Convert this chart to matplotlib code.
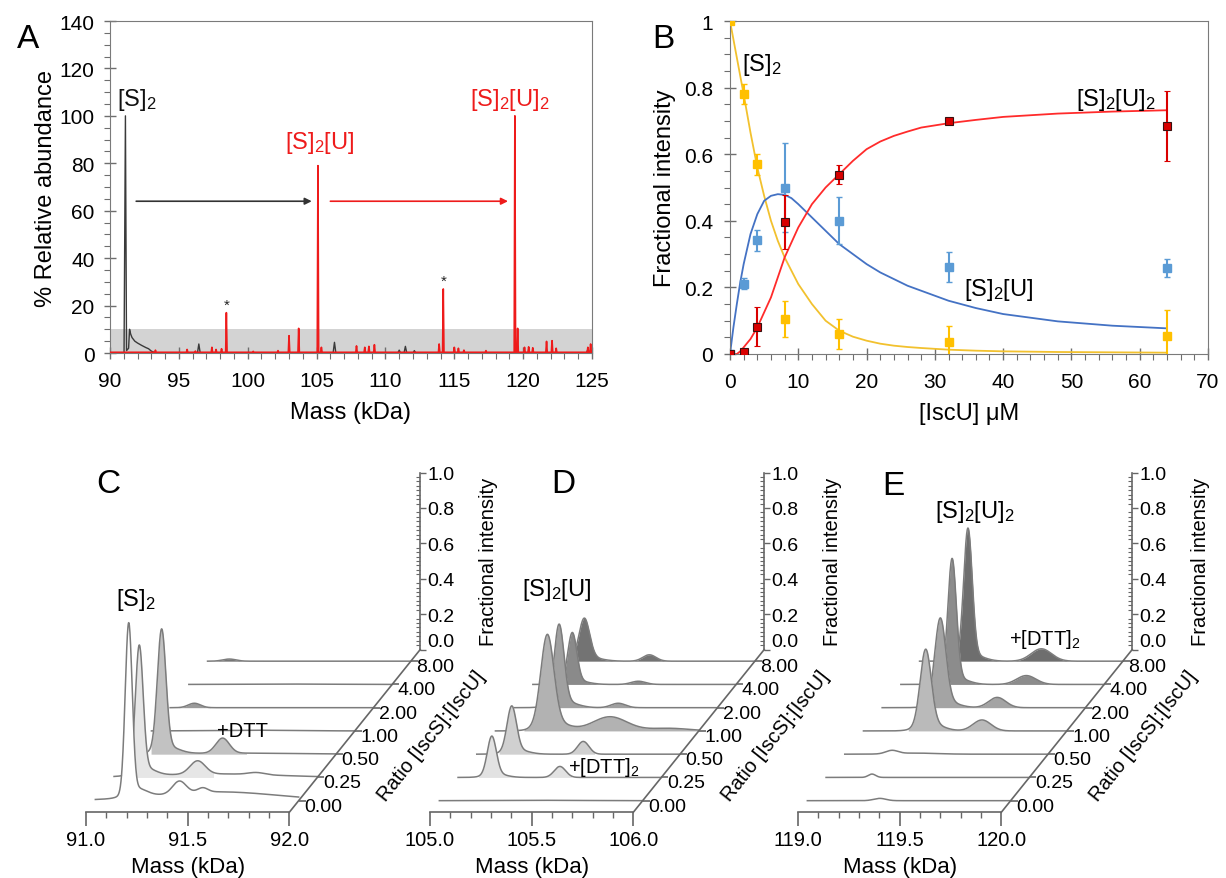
import numpy as np
import matplotlib
matplotlib.use('Agg')
import matplotlib.pyplot as plt
from matplotlib.markers import TICKRIGHT
from matplotlib.ticker import MultipleLocator, FixedLocator

plt.rcParams['font.family'] = ['Liberation Sans', 'DejaVu Sans']
plt.rcParams['mathtext.fontset'] = 'custom'
plt.rcParams['mathtext.rm'] = 'Liberation Sans'
plt.rcParams['mathtext.it'] = 'Liberation Sans'

# ---------------- Panel A data ----------------
A_BLACK_MASS = [90.0, 91.02, 91.12, 91.2, 91.35, 91.42, 91.5, 91.6, 91.8, 92.0, 92.3, 92.6, 92.8, 93.0, 93.3,
                96.35, 96.45, 96.55, 106.2, 106.3, 106.4, 110.9, 111.0, 111.1, 111.35, 111.45, 111.55,
                112.0, 112.1, 112.2, 124.6, 124.7, 124.8, 125.0]
A_BLACK_AB = [0, 0, 100, 1, 2, 10, 8, 6.5, 5, 4.2, 3.2, 2.3, 1.8, 0.8, 0,
              0, 3.8, 0, 0, 4.5, 0, 0, 1.2, 0, 0, 2.8, 0,
              0, 1.0, 0, 0, 1.5, 0, 0]
A_RED_PEAK_MASS = [93.3, 95.6, 96.2, 97.4, 97.7, 98.1, 98.45, 100.4, 102.2, 103.0, 103.7, 105.1, 105.35,
                   107.9, 108.5, 108.8, 109.2, 113.9, 114.2, 115.0, 115.3, 115.7, 117.3, 119.4, 119.6,
                   120.1, 120.4, 120.7, 121.7, 122.1, 122.4, 124.7, 124.9]
A_RED_PEAK_AB = [1.2, 1.5, 0.8, 2.4, 1.5, 1.8, 17, 0.7, 1.0, 7.3, 10.4, 79, 2.4,
                 3.0, 2.4, 2.8, 3.5, 3.8, 27, 2.4, 2.0, 1.2, 1.0, 100, 10.4,
                 2.4, 2.6, 2.2, 4.9, 5.2, 2.0, 2.4, 3.8]
A_STAR_MASS = [98.45, 114.2]
A_STAR_AB = [20.5, 30.5]

# ---------------- Panel B data ----------------
ISCU = [0, 2, 4, 8, 16, 32, 64]
B_S2 = [1.0, 0.78, 0.57, 0.105, 0.06, 0.035, 0.055]
B_S2_ERR = [0, 0.03, 0.032, 0.055, 0.045, 0.048, 0.077]
B_S2U = [0, 0.211, 0.341, 0.50, 0.40, 0.26, 0.258]
B_S2U_ERR = [0, 0.017, 0.032, 0.135, 0.07, 0.045, 0.028]
B_S2U2 = [0, 0.007, 0.082, 0.396, 0.539, 0.70, 0.685]
B_S2U2_ERR = [0, 0, 0.058, 0.08, 0.028, 0, 0.104]
FIT_X = [0, 0.5, 1, 1.5, 2, 3, 4, 5, 6, 7, 8, 9, 10, 11, 12, 13, 14, 16, 18, 20, 22, 24, 26, 28,
         32, 36, 40, 48, 56, 64]
FIT_S2 = [1.0, 0.945, 0.89, 0.835, 0.78, 0.665, 0.56, 0.475, 0.40, 0.34, 0.29, 0.25, 0.21, 0.18, 0.15,
          0.125, 0.10, 0.07, 0.052, 0.04, 0.031, 0.025, 0.021, 0.018, 0.013, 0.010, 0.008, 0.006,
          0.005, 0.004]
FIT_S2U = [0, 0.08, 0.15, 0.215, 0.27, 0.36, 0.42, 0.46, 0.475, 0.48, 0.478, 0.468, 0.45, 0.43, 0.41,
           0.39, 0.37, 0.33, 0.30, 0.27, 0.245, 0.225, 0.205, 0.19, 0.16, 0.138, 0.12, 0.098, 0.085,
           0.077]
FIT_S2U2 = [0, 0, 0, 0.008, 0.02, 0.045, 0.08, 0.125, 0.17, 0.23, 0.29, 0.335, 0.38, 0.415, 0.45,
            0.475, 0.50, 0.54, 0.58, 0.615, 0.638, 0.655, 0.668, 0.68, 0.693, 0.703, 0.712, 0.722,
            0.728, 0.732]

# ---------------- Panels C-E data ----------------
RATIO_LABELS = ["0.00", "0.25", "0.50", "1.00", "2.00", "4.00", "8.00"]
# each row: (start mass, fill range or None, fill colour, [(centre kDa, height, width kDa), ...])
C_ROWS = [
    (91.0, None, None, [(91.164, 0.95, 0.017), (91.2, 0.05, 0.05), (91.6, 0.05, 0.3),
                        (91.413, 0.07, 0.033), (91.528, 0.025, 0.025)]),
    (91.0, (91.08, 91.49), '#e6e6e6', [(91.124, 0.70, 0.019), (91.15, 0.045, 0.05), (91.5, 0.02, 0.3),
                                       (91.411, 0.075, 0.037), (91.70, 0.012, 0.04)]),
    (91.0, (91.09, 91.56), '#c2c2c2', [(91.142, 0.67, 0.021), (91.17, 0.04, 0.055), (91.5, 0.006, 0.3),
                                       (91.442, 0.085, 0.033)]),
    (91.0, None, None, [(91.5, 0.004, 0.2)]),
    (91.0, (91.04, 91.2), '#9a9a9a', [(91.119, 0.025, 0.03)]),
    (91.0, None, None, [(91.5, 0.002, 0.2)]),
    (91.0, (91.03, 91.2), '#767676', [(91.107, 0.012, 0.032)]),
]
D_ROWS = [
    (105.0, None, None, [(105.5, 0.002, 0.2)]),
    (105.0, (105.10, 105.56), '#e2e2e2', [(105.166, 0.215, 0.022), (105.185, 0.02, 0.05),
                                          (105.501, 0.062, 0.028)]),
    (105.0, (105.11, 105.58), '#d0d0d0', [(105.172, 0.25, 0.023), (105.195, 0.025, 0.055),
                                          (105.524, 0.072, 0.028)]),
    (105.0, (105.14, 106.0), '#b2b2b2', [(105.255, 0.50, 0.032), (105.285, 0.05, 0.07),
                                         (105.563, 0.08, 0.084), (105.85, 0.015, 0.1)]),
    (105.0, (105.15, 105.6), '#a0a0a0', [(105.221, 0.44, 0.024), (105.245, 0.035, 0.06),
                                         (105.512, 0.025, 0.035)]),
    (105.0, (105.12, 105.6), '#8a8a8a', [(105.194, 0.275, 0.022), (105.215, 0.02, 0.055),
                                         (105.519, 0.018, 0.035)]),
    (105.10, (105.10, 105.6), '#737373', [(105.161, 0.225, 0.026), (105.185, 0.02, 0.06),
                                          (105.481, 0.036, 0.032)]),
]
E_ROWS = [
    (119.0, None, None, [(119.356, 0.013, 0.03)]),
    (119.0, None, None, [(119.226, 0.019, 0.018)]),
    (119.0, None, None, [(119.232, 0.019, 0.03), (119.35, 0.006, 0.1)]),
    (119.0, (119.22, 119.72), '#bababa', [(119.306, 0.425, 0.027), (119.33, 0.04, 0.06),
                                          (119.583, 0.062, 0.044)]),
    (119.0, (119.21, 119.72), '#a4a4a4', [(119.286, 0.475, 0.027), (119.31, 0.035, 0.06),
                                          (119.566, 0.058, 0.042)]),
    (119.0, (119.18, 119.76), '#8c8c8c', [(119.252, 0.68, 0.021), (119.275, 0.035, 0.055),
                                          (119.617, 0.05, 0.047)]),
    (119.0, (119.17, 119.78), '#6e6e6e', [(119.238, 0.72, 0.021), (119.26, 0.035, 0.055),
                                          (119.599, 0.07, 0.05)]),
]

# ---------------- figure ----------------
W, H = 1226, 879
fig = plt.figure(figsize=(W / 100, H / 100), dpi=100)


def box(L, T, R, B):
    return [L / W, 1 - B / H, (R - L) / W, (B - T) / H]


def fxy(x, y):
    return x / W, 1 - y / H


AX_GRAY = '#6e6e6e'

# ---------- Panel A ----------
axA = fig.add_axes(box(110, 22, 592, 354))
axA.axhspan(0, 10, color='#d3d3d3', lw=0, zorder=0)
axA.plot(A_BLACK_MASS, A_BLACK_AB, color='#3a3a3a', lw=1.0, zorder=2)
rx, ry = [90.0], [0.3]
for m, h in zip(A_RED_PEAK_MASS, A_RED_PEAK_AB):
    rx += [m - 0.05, m, m + 0.05]
    ry += [0.3, h, 0.3]
rx.append(125.0)
ry.append(0.3)
axA.plot(rx, ry, color='#ee1b1b', lw=1.2, zorder=3)
for m, a in zip(A_STAR_MASS, A_STAR_AB):
    axA.text(m, a, '*', ha='center', va='center', fontsize=11, color='#222')
axA.annotate('', xy=(104.85, 64), xytext=(91.7, 64),
             arrowprops=dict(arrowstyle='-|>', color='#333333', lw=1.2, mutation_scale=10))
axA.annotate('', xy=(119.1, 64), xytext=(105.8, 64),
             arrowprops=dict(arrowstyle='-|>', color='#ee1b1b', lw=1.2, mutation_scale=10))
axA.text(91.95, 107, r'[S]$_2$', ha='center', va='center', fontsize=17, color='#111')
axA.text(105.25, 89, r'[S]$_2$[U]', ha='center', va='center', fontsize=17, color='#ee1b1b')
axA.text(119.05, 107, r'[S]$_2$[U]$_2$', ha='center', va='center', fontsize=17, color='#ee1b1b')
axA.set_xlim(90, 125)
axA.set_ylim(0, 140)
axA.set_xticks(np.arange(90, 126, 5))
axA.set_yticks(np.arange(0, 141, 20))
axA.xaxis.set_minor_locator(MultipleLocator(1))
axA.yaxis.set_minor_locator(MultipleLocator(5))
axA.tick_params(which='major', direction='inout', length=8, width=1, color=AX_GRAY, labelsize=15)
axA.tick_params(axis='x', which='major', pad=9)
axA.tick_params(axis='y', which='major', pad=7)
axA.tick_params(which='minor', direction='out', length=4, width=0.8, color=AX_GRAY)
for s in axA.spines.values():
    s.set_color('#7a7a7a')
axA.set_xlabel('Mass (kDa)', fontsize=17, labelpad=8)
axA.set_ylabel('% Relative abundance', fontsize=17, labelpad=2)
fig.text(*fxy(28, 40), 'A', fontsize=24, ha='center', va='center')

# ---------- Panel B ----------
axB = fig.add_axes(box(730, 22, 1208, 355))
c_y, c_yl = '#ffc000', '#f2c12e'
c_b, c_bl = '#5b9bd5', '#4472c4'
c_r, c_rl = '#d90000', '#ff2b2b'
axB.plot(FIT_X, FIT_S2, color=c_yl, lw=1.3, zorder=2)
axB.plot(FIT_X, FIT_S2U, color=c_bl, lw=1.3, zorder=2)
axB.plot(FIT_X, FIT_S2U2, color=c_rl, lw=1.3, zorder=2)
axB.errorbar(ISCU, B_S2, yerr=B_S2_ERR, fmt='s', color=c_y, ms=6, mec=c_y, ecolor=c_y,
             elinewidth=1.5, capsize=2, zorder=3)
axB.errorbar(ISCU, B_S2U, yerr=B_S2U_ERR, fmt='s', color=c_b, ms=6, mec=c_b, ecolor=c_b,
             elinewidth=1.5, capsize=2, zorder=3)
axB.errorbar(ISCU, B_S2U2, yerr=B_S2U2_ERR, fmt='s', color=c_r, ms=6, mec='#3a1010', mew=0.8,
             ecolor=c_r, elinewidth=1.5, capsize=2, zorder=4)
axB.text(4.7, 0.87, r'[S]$_2$', ha='center', va='center', fontsize=17)
axB.text(56.5, 0.765, r'[S]$_2$[U]$_2$', ha='center', va='center', fontsize=17)
axB.text(39.3, 0.195, r'[S]$_2$[U]', ha='center', va='center', fontsize=17)
axB.set_xlim(0, 70)
axB.set_ylim(0, 1)
axB.set_xticks(np.arange(0, 71, 10))
axB.set_yticks(np.arange(0, 1.01, 0.2))
axB.set_yticklabels(['0', '0.2', '0.4', '0.6', '0.8', '1'])
axB.xaxis.set_minor_locator(MultipleLocator(2))
axB.yaxis.set_minor_locator(MultipleLocator(0.05))
axB.tick_params(which='major', direction='inout', length=8, width=1, color=AX_GRAY, labelsize=15)
axB.tick_params(axis='x', which='major', pad=9)
axB.tick_params(axis='y', which='major', pad=8)
axB.tick_params(which='minor', direction='out', length=4, width=0.8, color=AX_GRAY)
for s in axB.spines.values():
    s.set_color('#7a7a7a')
axB.set_xlabel('[IscU] μM', fontsize=17, labelpad=8)
axB.set_ylabel('Fractional intensity', fontsize=17, labelpad=6)
fig.text(*fxy(663, 40), 'B', fontsize=24, ha='center', va='center')

# ---------- Panels C, D, E (waterfalls) ----------
S_X, S_Y = 203.3, 177.0
ROW_DX = 18.7 / S_X
ROW_DY = 23.25 / S_Y
AXIS_Y = 813.3
NR = len(RATIO_LABELS)
LINE_C = '#7c7c7c'
FRAME_C = '#666666'


def waterfall(x0px, m0, rows):
    L, R, T, B = x0px - 90, x0px + 360, 440, 879
    ax = fig.add_axes(box(L, T, R, B))
    ax.set_facecolor('none')
    ax.set_xlim(m0 - (x0px - L) / S_X, m0 + (R - x0px) / S_X)
    ax.set_ylim(-(B - AXIS_Y) / S_Y, (AXIS_Y - T) / S_Y)
    for s in ('left', 'top'):
        ax.spines[s].set_visible(False)
    mx = m0 + 1.0
    # mass axis
    ax.spines['bottom'].set_position(('data', 0))
    ax.spines['bottom'].set_bounds(m0, mx)
    ax.spines['bottom'].set_color(FRAME_C)
    ax.spines['bottom'].set_linewidth(1.2)
    ax.set_xticks([m0, m0 + 0.5, mx])
    ax.set_xticklabels([f'{v:.1f}' for v in (m0, m0 + 0.5, mx)])
    ax.xaxis.set_minor_locator(FixedLocator(np.round(np.arange(m0, mx + 0.001, 0.1), 3)))
    ax.tick_params(axis='x', which='major', direction='out', length=10, width=1.2, color=FRAME_C,
                   labelsize=14.5, pad=3)
    ax.tick_params(axis='x', which='minor', direction='out', length=4, width=1, color=FRAME_C)
    # intensity axis at the back
    yb = NR * ROW_DY
    xb = mx + NR * ROW_DX
    ax.spines['right'].set_position(('data', xb))
    ax.spines['right'].set_bounds(yb, yb + 1)
    ax.spines['right'].set_color(FRAME_C)
    ax.spines['right'].set_linewidth(1.2)
    ax.yaxis.set_ticks_position('right')
    majors = np.arange(0, 1.001, 0.2)
    ax.set_yticks(yb + majors)
    ax.set_yticklabels([f'{v:.1f}' for v in majors])
    ax.get_yticklabels()[0].set_verticalalignment('bottom')
    ax.yaxis.set_minor_locator(FixedLocator(yb + np.arange(0, 1.001, 0.025)))
    ax.tick_params(axis='y', which='major', direction='out', length=4, width=1, color=FRAME_C,
                   labelsize=14, pad=1)
    ax.tick_params(axis='y', which='minor', direction='in', length=3, width=0.8, color=FRAME_C)
    ax.text(xb + 68 / S_X, yb + 0.5, 'Fractional intensity', rotation=90, ha='center', va='center',
            fontsize=14.5)
    # ratio (depth) axis
    ax.plot([mx, xb], [0, yb], color=FRAME_C, lw=1.2, clip_on=False, zorder=40)
    for i, lab in enumerate(RATIO_LABELS):
        xd, yd = mx + (i + 0.5) * ROW_DX, (i + 0.5) * ROW_DY
        ax.plot([xd], [yd], marker=TICKRIGHT, ms=5, color=FRAME_C, mew=1.2, clip_on=False, zorder=40)
        ax.annotate(lab, (xd, yd), xytext=(4, -4), textcoords='offset points', ha='left',
                    va='center', fontsize=14, annotation_clip=False, zorder=41)
    ax.text(mx + 142 / S_X, 77 / S_Y, 'Ratio [IscS]:[IscU]', rotation=51.5, ha='center',
            va='center', fontsize=14.5, rotation_mode='anchor')
    ax.text(m0 + 0.5, -(868 - AXIS_Y) / S_Y, 'Mass (kDa)', ha='center', va='center', fontsize=16)
    # rows, back to front
    for i in reversed(range(NR)):
        start, frange, fcol, peaks = rows[i]
        m = np.linspace(start, mx, 700)
        y = np.zeros_like(m)
        for c, h, w in peaks:
            y += h * np.exp(-0.5 * ((m - c) / w) ** 2)
        dx, dy = (i + 0.5) * ROW_DX, (i + 0.5) * ROW_DY
        z = 3 + (NR - i) * 3
        ax.fill_between(m + dx, dy, dy + y, color='white', lw=0, zorder=z)
        if frange is not None:
            sel = (m >= frange[0]) & (m <= frange[1])
            ax.fill_between(m[sel] + dx, dy, dy + y[sel], color=fcol, lw=0, zorder=z + 0.5)
        ax.plot(m + dx, dy + y, color=LINE_C, lw=1.1, zorder=z + 1, solid_joinstyle='round')
    return ax


axC = waterfall(86, 91.0, C_ROWS)
axD = waterfall(430, 105.0, D_ROWS)
axE = waterfall(798, 119.0, E_ROWS)

fig.text(*fxy(108, 485), 'C', fontsize=24, ha='center', va='center')
fig.text(*fxy(136, 600), r'[S]$_2$', fontsize=17, ha='center', va='center')
fig.text(*fxy(242, 732), '+DTT', fontsize=14.5, ha='center', va='center')
fig.text(*fxy(563, 485), 'D', fontsize=24, ha='center', va='center')
fig.text(*fxy(557, 590), r'[S]$_2$[U]', fontsize=17, ha='center', va='center')
fig.text(*fxy(604, 768), r'+[DTT]$_2$', fontsize=14.5, ha='center', va='center', zorder=50)
fig.text(*fxy(893, 487), 'E', fontsize=24, ha='center', va='center')
fig.text(*fxy(975, 512), r'[S]$_2$[U]$_2$', fontsize=17, ha='center', va='center')
fig.text(*fxy(1045, 640), r'+[DTT]$_2$', fontsize=14.5, ha='center', va='center')

fig.savefig('out.png', dpi=100)
